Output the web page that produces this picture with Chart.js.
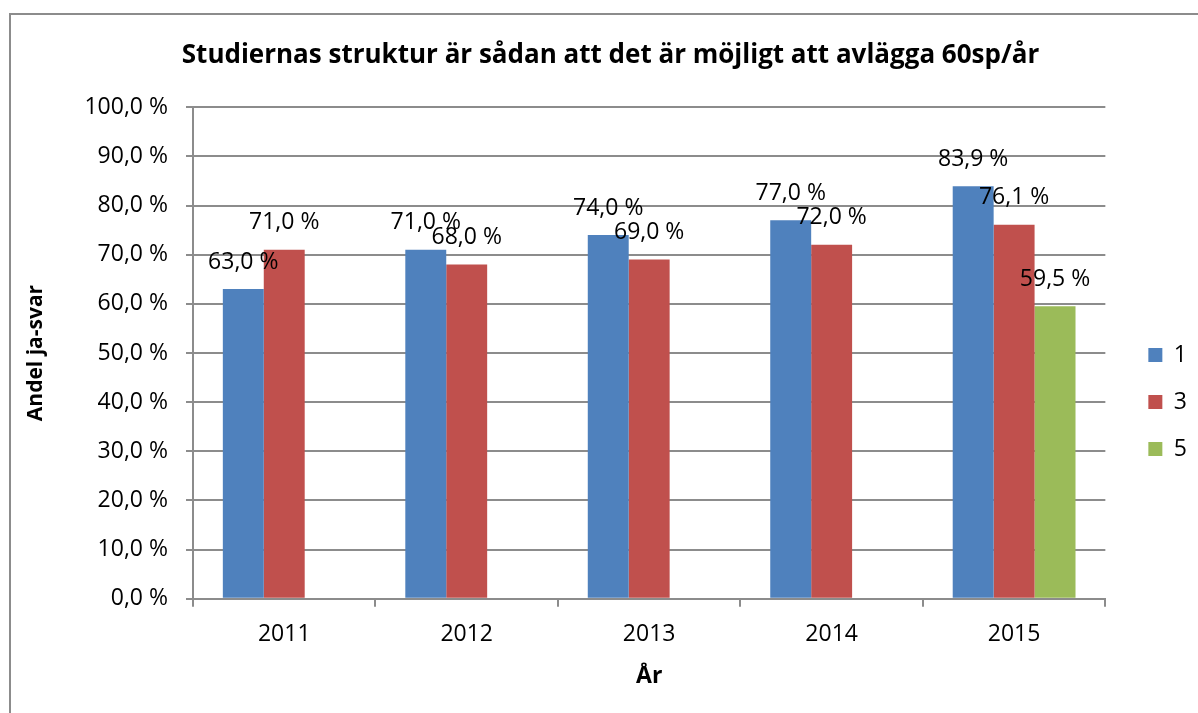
<!DOCTYPE html>
<html>
<head>
<meta charset="utf-8">
<script src="https://cdn.jsdelivr.net/npm/chart.js@4.4.1/dist/chart.umd.min.js"></script>
<style>
    body { margin: 0; background: #fff; overflow: hidden; }
    .wrap { position: relative; width: 1198px; height: 713px; }
    .frame {
        position: absolute; left: 9px; top: 13px; width: 1300px; height: 800px;
        border-left: 2px solid #8c8c8c; border-top: 2px solid #8c8c8c;
    }
    canvas { position: absolute; left: 0; top: 0; }
</style>
</head>
<body>
<div class="wrap">
    <div class="frame"></div>
    <canvas id="chart" width="1198" height="713"></canvas>
</div>
<script>
// ===== DATA ===== //
const years = ['2011', '2012', '2013', '2014', '2015'];
const seriesNames = ['1', '3', '5'];
const values1 = [63.0, 71.0, 74.0, 77.0, 83.9];
const values3 = [71.0, 68.0, 69.0, 72.0, 76.1];
const values5 = [null, null, null, null, 59.5];
const colors = ['#4F81BD', '#C0504D', '#9BBB59'];

const FONT = 'Open Sans';
const fmt = v => v.toFixed(1).replace('.', ',') + ' %';

// data labels above each bar
const barLabels = {
    id: 'barLabels',
    afterDatasetsDraw(chart) {
        const ctx = chart.ctx;
        ctx.save();
        ctx.font = `23px "${FONT}"`;
        ctx.fillStyle = '#000';
        ctx.textAlign = 'center';
        ctx.textBaseline = 'middle';
        chart.data.datasets.forEach((ds, i) => {
            chart.getDatasetMeta(i).data.forEach((bar, j) => {
                const v = ds.data[j];
                if (v == null) return;
                ctx.fillText(fmt(v), bar.x, bar.y - 27);
            });
        });
        ctx.restore();
    }
};

// nudge legend and title to where the original has them
const nudge = {
    id: 'nudge',
    afterLayout(chart) {
        const lg = chart.legend;
        lg.left += 19; lg.right += 19;
        lg.top += 57; lg.bottom += 57;
        const t = chart.titleBlock;
        t.left += 10; t.right += 10;
    }
};

new Chart(document.getElementById('chart'), {
    type: 'bar',
    data: {
        labels: years,
        datasets: [values1, values3, values5].map((d, i) => ({
            label: seriesNames[i],
            data: d,
            backgroundColor: colors[i],
            barPercentage: 1.0,
            categoryPercentage: 0.673
        }))
    },
    options: {
        responsive: false,
        animation: false,
        layout: { padding: { left: 23, right: 20, top: 0, bottom: 23 } },
        plugins: {
            title: {
                display: true,
                text: 'Studiernas struktur är sådan att det är möjligt att avlägga 60sp/år',
                color: '#000',
                font: { family: FONT, size: 26, weight: 'bold' },
                padding: { top: 40, bottom: 36 }
            },
            legend: {
                position: 'right',
                labels: {
                    color: '#000',
                    font: { family: FONT, size: 23 },
                    boxWidth: 14,
                    boxHeight: 14,
                    padding: 24
                }
            },
            tooltip: { enabled: false }
        },
        scales: {
            x: {
                grid: {
                    drawOnChartArea: false,
                    drawTicks: true,
                    tickLength: 8,
                    color: '#8c8c8c',
                    lineWidth: 2
                },
                border: { color: '#8c8c8c', width: 2 },
                ticks: { color: '#000', font: { family: FONT, size: 23 }, padding: 14 },
                title: {
                    display: true,
                    text: 'År',
                    color: '#000',
                    font: { family: FONT, size: 23, weight: 'bold' },
                    padding: { top: 0, bottom: 0 }
                }
            },
            y: {
                min: 0,
                max: 100,
                ticks: {
                    stepSize: 10,
                    color: '#000',
                    font: { family: FONT, size: 23 },
                    padding: 18,
                    callback: v => fmt(v)
                },
                grid: { color: '#8c8c8c', lineWidth: 2, tickLength: 7 },
                border: { color: '#8c8c8c', width: 2 },
                title: {
                    display: true,
                    text: 'Andel ja-svar',
                    color: '#000',
                    font: { family: FONT, size: 21, weight: 'bold' },
                    padding: { top: 0, bottom: 4 }
                },
                afterFit(scale) { scale.width = 170; }
            }
        }
    },
    plugins: [barLabels, nudge]
});
</script>
</body>
</html>
